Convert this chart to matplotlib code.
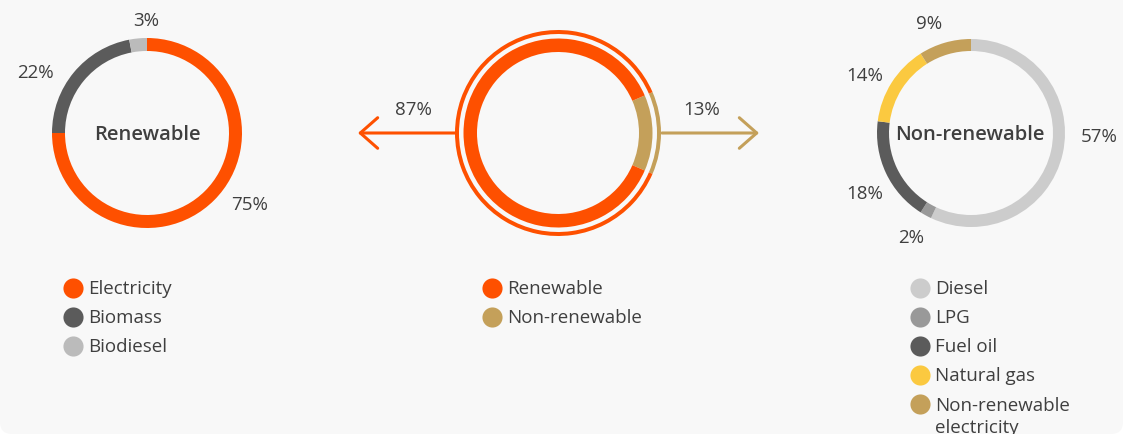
import numpy as np
import matplotlib.pyplot as plt
from matplotlib.patches import FancyBboxPatch

# data
ren_labels = ["Electricity", "Biomass", "Biodiesel"]
ren_values = [75, 22, 3]
split_labels = ["Renewable", "Non-renewable"]
split_values = [87, 13]
non_labels = ["Diesel", "LPG", "Fuel oil", "Natural gas", "Non-renewable\nelectricity"]
non_values = [57, 2, 18, 14, 9]

ORANGE = "#fe5000"
TAN = "#c4a05a"
ren_colors = [ORANGE, "#5b5b5b", "#bbbbbb"]
split_colors = [ORANGE, TAN]
non_colors = ["#cccccc", "#999999", "#5b5b5b", "#fbc940", TAN]
TXT = "#3f3f3f"
BG = "#f8f8f8"

# small label nudges (pixels, x right / y up) so the % labels sit like the original
ren_nudge = [(2, 11), (-4, -13), (10, -2)]
non_nudge = [(-2, 22), (8, -4), (16, -11), (9, -3), (3, 0)]

plt.rcParams["font.family"] = ["Open Sans", "DejaVu Sans"]
FS = 13.5

W, H = 1123, 435
fig = plt.figure(figsize=(W / 100, H / 100), dpi=100, facecolor="white")
ax = fig.add_axes([0, 0, 1, 1])

# card background with rounded bottom corners
ax.add_patch(FancyBboxPatch((0, 0), W, H + 40, boxstyle="round,pad=0,rounding_size=12",
                            fc=BG, ec="none", zorder=0))


def donut(values, colors, cx, cy, r, width, nudge, lab_r=1.22):
    wedges, _ = ax.pie(values, colors=colors, startangle=90, counterclock=False,
                       center=(cx, cy), radius=r, frame=True,
                       wedgeprops=dict(width=width, linewidth=0))
    for w, v, (dx, dy) in zip(wedges, values, nudge):
        mid = np.deg2rad((w.theta1 + w.theta2) / 2)
        x = cx + lab_r * r * np.cos(mid) + dx
        y = cy + lab_r * r * np.sin(mid) + dy
        c = np.cos(mid)
        ha = "center" if abs(c) < 0.15 else ("left" if c > 0 else "right")
        ax.text(x, y, f"{v}%", ha=ha, va="center", fontsize=FS, color=TXT)
    return wedges


cy = H - 134
# left donut
donut(ren_values, ren_colors, 147, cy, 95, 13, ren_nudge)
ax.text(147, cy - 1, "Renewable", ha="center", va="center", fontsize=14.5,
        fontweight="semibold", color=TXT)

# right donut
donut(non_values, non_colors, 971, cy, 94, 12, non_nudge)
ax.text(970, cy - 1, "Non-renewable", ha="center", va="center", fontsize=14.5,
        fontweight="semibold", color=TXT)

# middle donut: thick inner ring + thin outer ring, small part centred on the right
half = split_values[1] / 100 * 360 / 2
for r, w in [(94.5, 13.5), (103, 4)]:
    ax.pie(split_values[::-1], colors=split_colors[::-1], startangle=-half,
           counterclock=True, center=(558, cy), radius=r, frame=True,
           wedgeprops=dict(width=w, linewidth=0))

# arrows
for x0, x1, col in [(455, 358, ORANGE), (662, 759, TAN)]:
    ax.annotate("", xy=(x1, cy), xytext=(x0, cy),
                arrowprops=dict(arrowstyle="->,head_length=1.25,head_width=1.1", color=col,
                                lw=2.2, mutation_scale=10, shrinkA=0, shrinkB=0))
ax.text(413, cy + 24, f"{split_values[0]}%", ha="center", va="center", fontsize=FS, color=TXT)
ax.text(702, cy + 24, f"{split_values[1]}%", ha="center", va="center", fontsize=FS, color=TXT)

ax.set_xlim(0, W)
ax.set_ylim(0, H)
ax.set_aspect("equal")
ax.axis("off")


# legends
def legend(labels, colors, x, y0, step=29):
    for i, (lab, col) in enumerate(zip(labels, colors)):
        y = H - (y0 + i * step)
        ax.scatter([x], [y], s=210, color=col, linewidths=0, zorder=3)
        if "\n" in lab:
            ax.text(x + 15, y + 8, lab, ha="left", va="top", fontsize=FS, color=TXT,
                    linespacing=1.3)
        else:
            ax.text(x + 15, y, lab, ha="left", va="center", fontsize=FS, color=TXT)


legend(ren_labels, ren_colors, 73, 289)
legend(split_labels, split_colors, 492, 289)
legend(non_labels, non_colors, 920, 289)

fig.savefig("out.png", dpi=100, facecolor="white")
